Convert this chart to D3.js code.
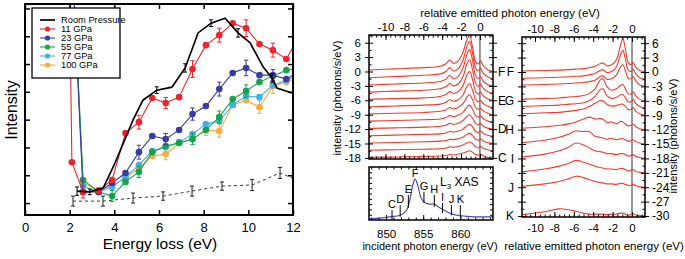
<!DOCTYPE html>
<html><head><meta charset="utf-8">
<script src="https://cdn.jsdelivr.net/npm/d3@7"></script>
<style>
body{margin:0;background:#fff;}
svg{display:block;font-family:"Liberation Sans",Arial,sans-serif;}
</style></head><body>
<svg id="fig" width="685" height="259"></svg>
<script>
/* left panel: energy-loss intensity vs pressure */
var lossX=[1.97,2.1,2.6,3.3,3.9,4.5,5.1,5.7,6.3,6.9,7.5,8.1,8.7,9.3,9.9,10.5,11.1,11.7,12.3];
var p11 =[9,1.47,0.40,0.45,0.83,2.52,2.91,3.78,3.60,3.81,4.82,5.68,6.04,6.47,6.29,5.72,5.50,5.18,6.04];
var p23 =[null,9,0.40,0.40,0.72,1.08,1.83,2.41,2.30,2.63,3.20,3.49,4.10,4.68,4.86,4.60,4.60,4.46,4.75];
var p55 =[null,9,0.83,0.40,0.25,0.76,1.12,1.83,2.05,2.16,2.30,2.63,3.09,3.74,4.03,4.35,4.57,4.78,4.85];
var p77 =[null,9,0.61,0.40,0.58,0.94,1.37,1.87,2.01,2.19,2.48,2.84,2.95,3.53,3.85,3.81,4.24,4.42,4.60];
var p100=[null,9,0.72,0.47,0.61,0.90,1.26,1.69,1.76,2.16,2.30,2.63,2.59,3.53,3.70,3.45,4.20,4.35,4.50];
var e11 =[0,0,0.22,0,0,0,0.25,0,0.2,0,0.3,0,0.25,0,0.3,0,0.25,0,0];
var e23 =[0,0,0,0,0,0,0.25,0,0.2,0,0.22,0,0.25,0,0.28,0,0.2,0,0];
var e55 =[0,0,0,0,0.2,0,0.2,0,0,0,0.2,0,0.22,0,0.22,0,0,0,0];
var e77 =[0,0,0,0,0,0,0,0,0,0,0,0,0,0,0,0,0,0,0];
var e100=[0,0,0,0,0,0,0,0,0.2,0,0,0.2,0.22,0,0,0.22,0.25,0,0];
var roomX=[2.33,2.9,3.5,4.03,4.84,5.28,5.9,6.58,7.17,7.75,8.33,8.96,9.54,10.08,10.66,11.06,11.28,11.96];
var roomY=[0.43,0.40,0.54,1.44,2.99,3.70,4.06,4.17,4.86,6.12,6.47,6.65,6.12,5.76,4.90,4.50,4.14,3.96];
var roomE=[0.15,0.1,0,0,0,0,0.12,0,0.15,0,0.12,0,0.15,0,0,0.15,0,0];
var bgX=[2.15,3.49,4.84,6.18,7.48,8.82,10.17,11.42,11.96];
var bgY=[0.07,0.07,0.18,0.25,0.43,0.61,0.65,1.08,0.90];
var bgE=[0.18,0.18,0.18,0.15,0.18,0.15,0.2,0.2,0];
var lossTicks=[0,2,4,6,8,10,12];
var seriesNames=["11 GPa","23 GPa","55 GPa","77 GPa","100 GPa"];
var seriesColors=["#e8262b","#3a3d9f","#17a34a","#3fb2e4","#f8aa3c"];

/* middle panel: spectra C..F, offset by 1.5 */
var midX=[-11.75,-9,-6,-4.2,-3.6,-3.2,-2.8,-2.3,-1.8,-1.4,-1.1,-0.8,-0.45,-0.15,0.05,0.35,0.8,1.38];
var midOffsets=[0,-1.5,-3,-4.5,-6,-7.5,-9,-10.5,-12,-13.5,-15,-16.5,-18];
var midCurves=[
 [0.3,0.55,0.8,1.1,1.6,2.4,1.7,2.2,4.0,6.5,7.5,5.2,2.0,1.6,2.3,1.2,0.4,0.0],
 [0.2,0.45,0.7,1.0,1.5,2.3,1.6,2.1,3.8,6.6,7.8,5.5,2.2,1.6,2.2,1.1,0.4,0.0],
 [0.2,0.4,0.6,0.9,1.4,2.2,1.5,2.0,3.7,6.5,7.6,5.4,2.1,1.5,2.0,1.0,0.3,0.0],
 [0.2,0.4,0.6,0.9,1.3,2.0,1.5,1.9,3.4,6.0,7.0,5.0,2.0,1.4,1.9,1.0,0.3,0.0],
 [0.2,0.35,0.5,0.8,1.2,1.8,1.4,1.8,3.0,5.2,6.0,4.4,1.8,1.3,1.7,0.9,0.3,0.0],
 [0.15,0.3,0.5,0.7,1.1,1.6,1.3,1.6,2.6,4.3,5.0,3.7,1.6,1.2,1.5,0.8,0.3,0.0],
 [0.15,0.3,0.45,0.7,1.0,1.5,1.2,1.5,2.3,3.6,4.2,3.2,1.5,1.1,1.4,0.8,0.3,0.0],
 [0.15,0.3,0.45,0.6,0.9,1.3,1.1,1.4,2.0,3.0,3.5,2.7,1.3,1.0,1.3,0.7,0.2,0.0],
 [0.15,0.25,0.4,0.6,0.8,1.2,1.0,1.2,1.8,2.6,3.0,2.3,1.2,0.9,1.2,0.6,0.2,0.0],
 [0.1,0.25,0.4,0.5,0.7,1.0,0.9,1.1,1.5,2.2,2.5,2.0,1.0,0.8,1.1,0.6,0.2,0.0],
 [0.1,0.2,0.35,0.5,0.6,0.9,0.8,1.0,1.3,1.9,2.1,1.7,0.9,0.7,1.0,0.5,0.2,0.0],
 [0.1,0.2,0.3,0.4,0.55,0.8,0.7,0.9,1.2,1.6,1.8,1.5,0.8,0.6,0.9,0.5,0.2,0.0],
 [0.1,0.2,0.3,0.4,0.5,0.7,0.6,0.8,1.0,1.3,1.5,1.2,0.7,0.6,0.8,0.4,0.1,0.0]
];
var midLetters=["F","E","D","C"], midLetterY=[0,-6,-12,-18];

/* XAS inset */
var xasE=[847.7,850.5,851.9,852.7,853.2,853.6,853.9,854.3,854.7,855.3,855.9,856.5,857.0,858.0,858.9,860.0,862.0,864.4];
var xasI=[0.02,0.06,0.09,0.17,0.38,0.66,0.77,0.64,0.42,0.32,0.30,0.30,0.25,0.17,0.11,0.08,0.06,0.06];
var markNames=["C","D","E","F","G","H","I","J","K"];
var markE=[850.8,851.9,853.0,853.9,855.1,856.5,857.6,858.8,860.0];
var markLo=[0.0,0.06,0.23,0.77,0.32,0.25,0.13,0.09,0.06];
var markHi=[0.19,0.28,0.47,0.77,0.53,0.47,0.32,0.28,0.28];

/* right panel: spectra F..K */
var rX=[-11.34,-9,-7.5,-6.5,-5.8,-5,-4.4,-3.8,-3.3,-3.0,-2.6,-2.1,-1.6,-1.2,-0.95,-0.7,-0.4,-0.1,0.1,0.4,0.8,1.34];
var rOffsets=[0,-1.5,-3,-6,-7.5,-9,-12,-15,-18,-21,-24,-30];
var rCurves=[
 [0.2,0.3,0.4,0.5,0.6,0.7,0.9,1.2,1.7,1.9,1.3,1.5,2.6,5.5,7.0,5.0,2.0,1.5,2.0,1.0,0.3,0.0],
 [0.2,0.3,0.4,0.5,0.6,0.7,0.9,1.2,1.8,2.0,1.4,1.6,2.6,5.0,6.0,4.4,1.9,1.6,2.1,1.1,0.3,0.0],
 [0.3,0.4,0.5,0.6,0.7,0.8,1.0,1.3,2.0,2.2,1.5,1.6,2.4,4.0,4.5,3.4,1.7,1.6,2.1,1.1,0.3,0.0],
 [0.3,0.5,0.6,0.8,0.9,1.1,1.5,2.5,4.3,4.6,3.0,2.2,2.5,3.2,3.4,2.6,1.5,1.4,1.9,1.0,0.3,0.0],
 [0.3,0.5,0.6,0.8,0.9,1.1,1.5,2.4,3.8,4.0,2.6,2.0,2.2,2.7,2.8,2.2,1.3,1.3,1.8,0.9,0.3,0.0],
 [0.3,0.5,0.6,0.8,1.0,1.3,1.8,2.5,3.0,3.0,2.3,1.9,2.0,2.3,2.3,1.9,1.2,1.2,1.6,0.8,0.3,0.0],
 [0.3,0.6,0.9,1.2,1.6,2.2,2.6,2.2,2.3,2.2,1.5,1.6,1.2,1.7,1.6,1.2,0.8,0.9,1.2,0.6,0.2,0.0],
 [0.3,0.8,1.4,2.1,2.7,2.6,2.6,1.6,1.4,1.3,1.0,1.2,0.9,1.1,1.1,0.9,0.6,0.7,0.9,0.5,0.2,0.0],
 [0.3,0.9,1.6,2.4,3.2,2.8,2.2,1.6,1.4,1.3,1.0,1.0,0.8,1.0,1.0,0.8,0.5,0.6,0.8,0.4,0.2,0.0],
 [0.2,0.8,1.4,2.0,2.6,2.2,1.8,1.4,1.1,1.0,0.8,0.8,0.7,0.9,0.9,0.7,0.4,0.5,0.7,0.3,0.1,0.0],
 [0.2,0.7,1.2,1.8,2.3,2.0,1.6,1.2,1.0,0.9,0.7,0.7,0.6,0.8,0.8,0.6,0.4,0.4,0.6,0.3,0.1,0.0],
 [0.3,0.9,1.5,1.3,1.0,0.6,0.4,0.4,0.4,0.4,0.3,0.4,0.4,0.6,0.6,0.4,0.2,0.3,0.5,0.2,0.1,0.0]
];
var rLetters=["F","G","H","I","J","K"], rLetterY=[0,-6,-12,-18,-24,-30];

var svg=d3.select("#fig"), defs=svg.append("defs");
function clip(id,x0,y0,x1,y1){defs.append("clipPath").attr("id",id).append("rect").attr("x",x0).attr("y",y0).attr("width",x1-x0).attr("height",y1-y0);}
function frame(x0,y0,x1,y1,sw){svg.append("rect").attr("x",x0).attr("y",y0).attr("width",x1-x0).attr("height",y1-y0).attr("fill","none").attr("stroke","#000").attr("stroke-width",sw);}
function axis(gen,tx,ty,fs,sw){
    var g=svg.append("g").attr("transform","translate("+tx+","+ty+")").call(gen);
    g.attr("font-family",null).attr("font-size",fs);
    g.select(".domain").remove();
    g.selectAll("line").attr("stroke-width",sw||1);
    return g;
}
function label(x,y,txt,fs,rot){
    var t=svg.append("text").attr("text-anchor","middle").attr("font-size",fs).text(txt);
    if(rot) t.attr("transform","translate("+x+","+y+") rotate(-90)");
    else t.attr("x",x).attr("y",y);
    return t;
}
function range(a,b,s){var r=[];for(var v=a;v<=b+1e-9;v+=s)r.push(+v.toFixed(3));return r;}
var minus=function(d){return d<0?"-"+Math.abs(d):""+d;};

/* ===== left panel ===== */
var xL=d3.scaleLinear().domain([0,12]).range([25,293]);
var yL=d3.scaleLinear().domain([-0.43,7.16]).range([215,4]);
clip("cL",25,4,293,215);
var gL=svg.append("g").attr("clip-path","url(#cL)");

// dashed background
gL.append("path").datum(bgX.map(function(x,i){return [x,bgY[i]];}))
  .attr("d",d3.line().x(function(d){return xL(d[0]);}).y(function(d){return yL(d[1]);}))
  .attr("fill","none").attr("stroke","#222").attr("stroke-width",0.9).attr("stroke-dasharray","3,3");
function errBars(g,xs,ys,es,col,cap){
    xs.forEach(function(x,i){
        if(!es[i]||ys[i]==null) return;
        var cx=xL(x), a=yL(ys[i]-es[i]), b=yL(ys[i]+es[i]);
        g.append("line").attr("x1",cx).attr("x2",cx).attr("y1",a).attr("y2",b).attr("stroke",col).attr("stroke-width",1);
        [a,b].forEach(function(yy){g.append("line").attr("x1",cx-cap).attr("x2",cx+cap).attr("y1",yy).attr("y2",yy).attr("stroke",col).attr("stroke-width",1);});
    });
}
errBars(gL,bgX,bgY,bgE,"#222",2);

var seriesVals=[p11,p23,p55,p77,p100], seriesErr=[e11,e23,e55,e77,e100];
var drawOrder=[4,3,2,1,0];
drawOrder.forEach(function(k){
    var pts=lossX.map(function(x,i){return [x,seriesVals[k][i]];});
    gL.append("path").datum(pts)
      .attr("d",d3.line().defined(function(d){return d[1]!=null;}).x(function(d){return xL(d[0]);}).y(function(d){return yL(d[1]);}))
      .attr("fill","none").attr("stroke",seriesColors[k]).attr("stroke-width",1.1);
    errBars(gL,lossX,seriesVals[k],seriesErr[k],seriesColors[k],2.2);
    gL.selectAll("circle.s"+k).data(pts.filter(function(d){return d[1]!=null;})).enter().append("circle")
      .attr("cx",function(d){return xL(d[0]);}).attr("cy",function(d){return yL(d[1]);}).attr("r",3.3)
      .attr("fill",seriesColors[k]);
});
// room pressure
gL.append("path").datum(roomX.map(function(x,i){return [x,roomY[i]];}))
  .attr("d",d3.line().x(function(d){return xL(d[0]);}).y(function(d){return yL(d[1]);}))
  .attr("fill","none").attr("stroke","#000").attr("stroke-width",1.7);
errBars(gL,roomX,roomY,roomE,"#000",2);

frame(25,4,293,215,2);
axis(d3.axisBottom(xL).tickValues(lossTicks).tickSize(-5).tickPadding(8).tickFormat(d3.format("d")),0,215,13,1.5);
axis(d3.axisTop(xL).tickValues(lossTicks).tickSize(-5).tickFormat(""),0,4,13,1.5);
axis(d3.axisLeft(yL).tickValues(range(0,7,1)).tickSize(-5).tickFormat(""),25,0,13,1.5);
axis(d3.axisRight(yL).tickValues(range(0,7,1)).tickSize(-5).tickFormat(""),293,0,13,1.5);
label(160,249,"Energy loss (eV)",15.5);
label(17,110,"Intensity",16,true);

// legend
var lg=svg.append("g").attr("transform","translate(32,8)");
lg.append("rect").attr("width",88).attr("height",70).attr("fill","#fff").attr("stroke","#000").attr("stroke-width",1.3);
var legNames=["Room Pressure"].concat(seriesNames), legCols=["#000"].concat(seriesColors);
legNames.forEach(function(n,i){
    var yy=12+i*9;
    lg.append("line").attr("x1",8).attr("x2",23).attr("y1",yy).attr("y2",yy).attr("stroke",legCols[i]).attr("stroke-width",i?1.1:1.7);
    if(i) lg.append("circle").attr("cx",15.5).attr("cy",yy).attr("r",2.6).attr("fill",legCols[i]);
    lg.append("text").attr("x",29).attr("y",yy+3.2).attr("font-size",9.3).text(n);
});

/* ===== middle panel ===== */
var xM=d3.scaleLinear().domain([-11.75,1.38]).range([369,493]);
var yM=d3.scaleLinear().domain([-18.23,7.6]).range([159,35]);
clip("cM",369,35,493,159);
var gM=svg.append("g").attr("clip-path","url(#cM)");
var specLine=function(xs,xsc,ysc,off){return d3.line().curve(d3.curveCatmullRom.alpha(0.5)).x(function(d,i){return xsc(xs[i]);}).y(function(d){return ysc(d+off);});};
gM.append("line").attr("x1",xM(0)).attr("x2",xM(0)).attr("y1",35).attr("y2",159).attr("stroke","#333").attr("stroke-width",1);
midCurves.forEach(function(c,i){
    gM.append("path").attr("d",specLine(midX,xM,yM,midOffsets[i])(c)).attr("fill","none").attr("stroke","#ee3b30").attr("stroke-width",1.1);
});
frame(369,35,493,159,1.5);
axis(d3.axisTop(xM).tickValues(range(-10,0,2)).tickSize(-5).tickPadding(4).tickFormat(minus),0,35,11.5);
axis(d3.axisTop(xM).tickValues(range(-11.5,1,0.5)).tickSize(-2.5).tickFormat(""),0,35,11.5);
axis(d3.axisBottom(xM).tickValues(range(-10,0,2)).tickSize(-5).tickFormat(""),0,159,11.5);
axis(d3.axisBottom(xM).tickValues(range(-11.5,1,0.5)).tickSize(-2.5).tickFormat(""),0,159,11.5);
axis(d3.axisLeft(yM).tickValues(range(-18,6,3)).tickSize(4).tickPadding(4).tickFormat(minus),369,0,11.5);
axis(d3.axisLeft(yM).tickValues(range(-18,6,3)).tickSize(-4).tickFormat(""),369,0,12);
axis(d3.axisLeft(yM).tickValues(range(-16.5,7.5,3)).tickSize(-2.5).tickFormat(""),369,0,12);
axis(d3.axisRight(yM).tickValues(range(-18,6,3)).tickSize(4).tickFormat(""),493,0,12);
axis(d3.axisRight(yM).tickValues(range(-18,6,3)).tickSize(-4).tickFormat(""),493,0,12);
axis(d3.axisRight(yM).tickValues(range(-16.5,7.5,3)).tickSize(-2.5).tickFormat(""),493,0,12);
axis(d3.axisRight(yM).tickValues(midLetterY).tickSize(0).tickPadding(5).tickFormat(function(d,i){return midLetters[i];}),493,0,12);
label(341,98,"intensity (photons/s/eV)",11,true);
label(510,17,"relative emitted photon energy (eV)",11.5);

/* ===== XAS inset ===== */
var xX=d3.scaleLinear().domain([847.7,864.4]).range([369,493]);
var yX=d3.scaleLinear().domain([0,1]).range([220,167]);
svg.append("path").datum(xasE.map(function(e,i){return [e,xasI[i]];}))
  .attr("d",d3.line().curve(d3.curveCatmullRom.alpha(0.5)).x(function(d){return xX(d[0]);}).y(function(d){return yX(d[1]);}))
  .attr("fill","none").attr("stroke","#4a4ab8").attr("stroke-width",1.2);
markE.forEach(function(e,i){
    if(markNames[i]!=="F") svg.append("line").attr("x1",xX(e)).attr("x2",xX(e)).attr("y1",yX(markLo[i])).attr("y2",yX(markHi[i])).attr("stroke","#000").attr("stroke-width",1);
    svg.append("text").attr("x",xX(e)).attr("y",yX(markHi[i])-2).attr("text-anchor","middle").attr("font-size",11).text(markNames[i]);
});
frame(369,167,493,220,1.5);
axis(d3.axisBottom(xX).tickValues([850,855,860]).tickSize(-5).tickPadding(10),0,220,11.5);
axis(d3.axisBottom(xX).tickValues(range(848,864,1)).tickSize(-2.5).tickFormat(""),0,220,11.5);
axis(d3.axisTop(xX).tickValues(range(848,864,1)).tickSize(-2.5).tickFormat(""),0,167,11.5);
axis(d3.axisLeft(yX).tickValues(range(0.1,0.9,0.1)).tickSize(-3).tickFormat(""),369,0,11);
axis(d3.axisRight(yX).tickValues(range(0.1,0.9,0.1)).tickSize(-3).tickFormat(""),493,0,11);
var l3=svg.append("text").attr("x",440).attr("y",186).attr("font-size",12);
l3.append("tspan").text("L");
l3.append("tspan").attr("font-size",8).attr("dy",3).text("3");
l3.append("tspan").attr("dy",-3).text(" XAS");
label(430,250,"incident photon energy (eV)",11);

/* ===== right panel ===== */
var xR=d3.scaleLinear().domain([-11.34,1.34]).range([522,645]);
var yR=d3.scaleLinear().domain([-30.2,7.29]).range([217,37]);
clip("cR",522,37,645,217);
var gR=svg.append("g").attr("clip-path","url(#cR)");
gR.append("line").attr("x1",xR(0)).attr("x2",xR(0)).attr("y1",37).attr("y2",217).attr("stroke","#333").attr("stroke-width",1);
rCurves.forEach(function(c,i){
    gR.append("path").attr("d",specLine(rX,xR,yR,rOffsets[i])(c)).attr("fill","none").attr("stroke","#ee3b30").attr("stroke-width",1.1);
});
frame(522,37,645,217,1.5);
axis(d3.axisTop(xR).tickValues(range(-10,0,2)).tickSize(-5).tickPadding(4).tickFormat(minus),0,37,11.5);
axis(d3.axisTop(xR).tickValues(range(-11,1,0.5)).tickSize(-2.5).tickFormat(""),0,37,11.5);
axis(d3.axisBottom(xR).tickValues(range(-10,0,2)).tickSize(-5).tickPadding(7).tickFormat(minus),0,217,11.5);
axis(d3.axisBottom(xR).tickValues(range(-11,1,0.5)).tickSize(-2.5).tickFormat(""),0,217,11.5);
axis(d3.axisRight(yR).tickValues(range(-30,6,3)).tickSize(4).tickPadding(3).tickFormat(minus),645,0,12);
axis(d3.axisRight(yR).tickValues(range(-30,6,3)).tickSize(-4).tickFormat(""),645,0,12);
axis(d3.axisRight(yR).tickValues(range(-28.5,6,3)).tickSize(-2.5).tickFormat(""),645,0,12);
axis(d3.axisLeft(yR).tickValues(range(-30,6,3)).tickSize(4).tickFormat(""),522,0,12);
axis(d3.axisLeft(yR).tickValues(range(-30,6,3)).tickSize(-4).tickFormat(""),522,0,12);
axis(d3.axisLeft(yR).tickValues(range(-28.5,6,3)).tickSize(-2.5).tickFormat(""),522,0,12);
axis(d3.axisLeft(yR).tickValues(rLetterY).tickSize(0).tickPadding(8).tickFormat(function(d,i){return rLetters[i];}),522,0,12);
label(677,136,"intensity (photons/s/eV)",11,true);
label(594,250,"relative emitted photon energy (eV)",11.5);
</script>
</body></html>
